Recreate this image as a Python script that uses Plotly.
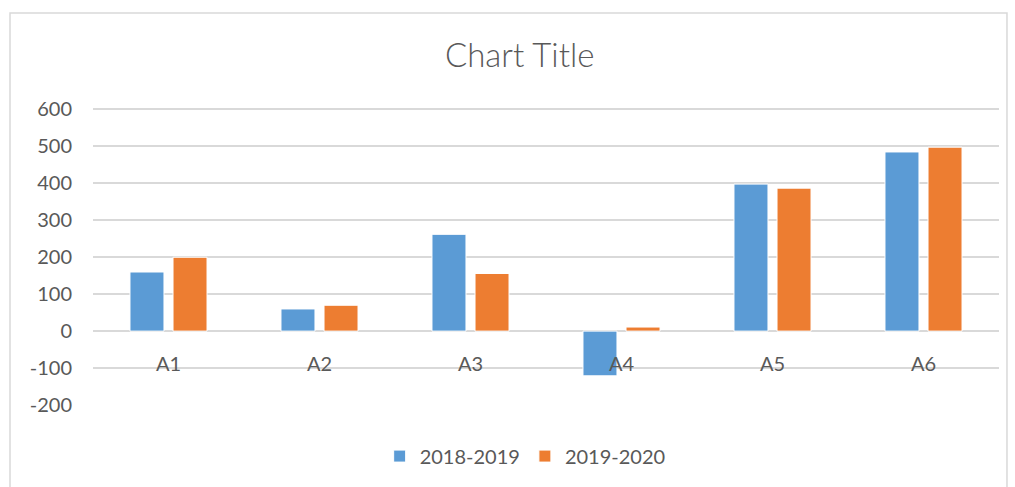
import plotly.graph_objects as go

categories = ["A1", "A2", "A3", "A4", "A5", "A6"]
series_2018_2019 = [160, 60, 262, -121, 398, 485]
series_2019_2020 = [200, 70, 156, 11, 387, 498]
y_ticks = [-200, -100, 0, 100, 200, 300, 400, 500, 600]
y_tick_labels = ["-200", "-100", "0", "100", "200", "300", "400", "500", "600"]

FONT = "Lato"
GREY = "#595959"
GRID = "#D9D9D9"

fig = go.Figure()
fig.add_trace(go.Bar(name="2018-2019", x=categories, y=series_2018_2019,
                     marker=dict(color="#5B9BD5", line=dict(color="white", width=1))))
fig.add_trace(go.Bar(name="2019-2020", x=categories, y=series_2019_2020,
                     marker=dict(color="#ED7D31", line=dict(color="white", width=1))))

for c in categories:
    fig.add_annotation(x=c, y=0, xref="x", yref="y", text=c, showarrow=False,
                       yanchor="middle", yshift=-32,
                       font=dict(family=FONT, size=20, color=GREY))

fig.add_shape(type="rect", xref="paper", yref="paper",
              x0=-0.0916, x1=1.0088, y0=-0.4, y1=1.32,
              line=dict(color=GRID, width=1.5), fillcolor="rgba(0,0,0,0)", layer="below")

fig.update_layout(
    width=1015, height=487,
    margin=dict(l=93, r=16, t=108, b=80),
    paper_bgcolor="white", plot_bgcolor="white",
    barmode="group", bargap=0.43, bargroupgap=0.21,
    title=dict(text="Chart Title", x=0.512, xanchor="center", y=1 - 55 / 487, yanchor="middle",
               font=dict(family=FONT, size=33, color=GREY, weight=300)),
    xaxis=dict(showticklabels=False, showgrid=False, zeroline=False, showline=False, ticks=""),
    yaxis=dict(range=[-200, 604], tickvals=y_ticks, ticktext=y_tick_labels,
               showgrid=True, gridcolor=GRID, gridwidth=1.5,
               zeroline=True, zerolinecolor=GRID, zerolinewidth=1.5, showline=False,
               ticks="", ticklabelstandoff=20,
               tickfont=dict(family=FONT, size=20, color=GREY)),
    legend=dict(orientation="h", x=0.477, xanchor="center", y=-0.172, yanchor="middle",
                font=dict(family=FONT, size=20, color=GREY), itemwidth=30,
                traceorder="normal"),
    showlegend=True,
)

fig.write_html("out.html", config={"displayModeBar": False},
               post_script="document.body.style.margin='0';")
